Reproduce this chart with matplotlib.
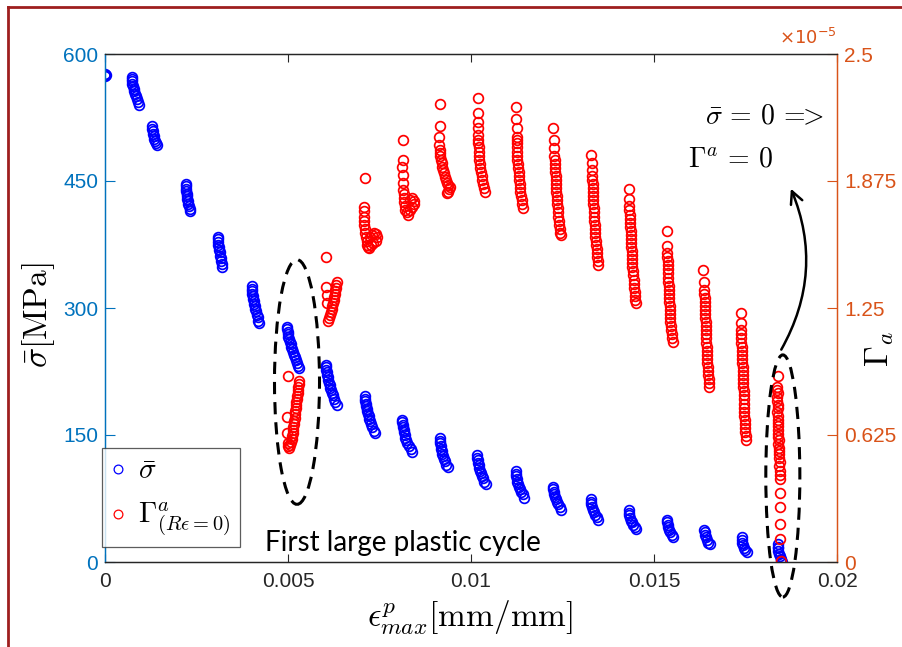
import numpy as np
import matplotlib
matplotlib.use('Agg')
import matplotlib.pyplot as plt
from matplotlib.patches import Ellipse, FancyArrowPatch
from matplotlib.lines import Line2D

plt.rcParams['mathtext.fontset'] = 'cm'
plt.rcParams['font.family'] = ['Liberation Sans', 'DejaVu Sans']

# ── Data ──────────────────────────────────────────────────────────────────────
# sigma bar [MPa] vs max plastic strain, one cycle group per line
sigma_x = [
    0.0, 0.0, 0.00001, 0.00002,
    0.00073, 0.00073, 0.00074, 0.00075, 0.00076, 0.00078, 0.00080, 0.00082, 0.00084, 0.00087, 0.00089, 0.00092,
    0.00129, 0.00129, 0.00130, 0.00131, 0.00133, 0.00135, 0.00137, 0.00139, 0.00141,
    0.00220, 0.00220, 0.00221, 0.00222, 0.00223, 0.00224, 0.00225, 0.00226, 0.00228, 0.00229, 0.00231, 0.00232,
    0.00308, 0.00308, 0.00309, 0.00310, 0.00311, 0.00312, 0.00313, 0.00315, 0.00316, 0.00318, 0.00319, 0.00321,
    0.00402, 0.00402, 0.00403, 0.00403, 0.00404, 0.00405, 0.00406, 0.00408, 0.00409, 0.00411, 0.00413, 0.00415, 0.00417, 0.00419, 0.00421,
    0.00498, 0.00498, 0.00499, 0.00500, 0.00501, 0.00503, 0.00505, 0.00507, 0.00509, 0.00511, 0.00513, 0.00516, 0.00518, 0.00521, 0.00524, 0.00527, 0.00531,
    0.00604, 0.00604, 0.00605, 0.00606, 0.00607, 0.00609, 0.00610, 0.00612, 0.00614, 0.00616, 0.00618, 0.00621, 0.00623, 0.00626, 0.00629, 0.00633,
    0.00710, 0.00710, 0.00711, 0.00712, 0.00713, 0.00715, 0.00716, 0.00718, 0.00720, 0.00722, 0.00724, 0.00727, 0.00730, 0.00734, 0.00738,
    0.00812, 0.00812, 0.00813, 0.00814, 0.00816, 0.00817, 0.00819, 0.00821, 0.00823, 0.00826, 0.00830, 0.00835, 0.00840,
    0.00915, 0.00915, 0.00916, 0.00917, 0.00918, 0.00920, 0.00922, 0.00924, 0.00926, 0.00929, 0.00933, 0.00938,
    0.01017, 0.01017, 0.01018, 0.01019, 0.01021, 0.01022, 0.01024, 0.01026, 0.01029, 0.01032, 0.01036, 0.01041,
    0.01123, 0.01123, 0.01124, 0.01125, 0.01127, 0.01129, 0.01131, 0.01134, 0.01137, 0.01141, 0.01145,
    0.01225, 0.01225, 0.01226, 0.01228, 0.01230, 0.01232, 0.01235, 0.01238, 0.01242, 0.01246,
    0.01328, 0.01328, 0.01329, 0.01331, 0.01333, 0.01336, 0.01339, 0.01343, 0.01348,
    0.01432, 0.01432, 0.01433, 0.01435, 0.01437, 0.01440, 0.01443, 0.01447, 0.01451,
    0.01535, 0.01536, 0.01537, 0.01539, 0.01542, 0.01545, 0.01549, 0.01553,
    0.01637, 0.01638, 0.01639, 0.01641, 0.01644, 0.01648, 0.01653,
    0.01740, 0.01740, 0.01741, 0.01743, 0.01746, 0.01749, 0.01753,
    0.01838, 0.01838, 0.01839, 0.01840, 0.01842, 0.01844, 0.01846, 0.01848, 0.01851,
]
sigma_y = [
    575, 574, 576, 575,
    573, 571, 568, 565, 562, 559, 556, 553, 550, 547, 543, 540,
    515, 512, 509, 506, 503, 500, 497, 495, 492,
    447, 444, 441, 438, 435, 432, 429, 426, 423, 420, 417, 414,
    384, 381, 378, 375, 372, 369, 366, 362, 359, 356, 352, 349,
    326, 323, 320, 317, 314, 311, 308, 305, 302, 299, 296, 292, 289, 285, 282,
    278, 275, 272, 269, 266, 263, 260, 257, 254, 251, 248, 245, 242, 238, 235, 232, 229,
    233, 230, 227, 224, 221, 218, 215, 212, 209, 206, 203, 200, 197, 193, 189, 185,
    196, 193, 190, 187, 184, 181, 178, 175, 172, 169, 166, 163, 159, 155, 152,
    168, 165, 162, 159, 156, 153, 150, 147, 144, 141, 137, 134, 130,
    146, 143, 140, 137, 134, 131, 128, 125, 122, 119, 115, 112,
    126, 123, 120, 117, 114, 111, 108, 105, 102, 99, 95, 92,
    107, 104, 101, 98, 95, 92, 89, 86, 83, 80, 76,
    89, 86, 83, 80, 77, 74, 71, 68, 65, 62,
    74, 71, 68, 65, 62, 59, 56, 53, 50,
    61, 58, 55, 52, 49, 47, 44, 41, 39,
    50, 47, 44, 41, 38, 35, 32, 29,
    38, 35, 32, 29, 26, 23, 21,
    29, 26, 23, 20, 17, 14, 12,
    21, 18, 16, 13, 10, 7, 4, 2, 0,
]

# Gamma^a (R eps = 0), in units of 1e-5
gamma_x = [
    0.00499, 0.00496, 0.00496, 0.00500, 0.00499,
    0.00530, 0.00529, 0.00528, 0.00527, 0.00526, 0.00525, 0.00524, 0.00523, 0.00522, 0.00521, 0.00520, 0.00519,
    0.00518, 0.00517, 0.00516, 0.00515, 0.00514, 0.00513, 0.00512, 0.00510, 0.00508, 0.00505, 0.00503,
    0.00604, 0.00604, 0.00606, 0.00607,
    0.00633, 0.00632, 0.00631, 0.00629, 0.00628, 0.00626, 0.00625, 0.00623, 0.00621, 0.00619, 0.00617, 0.00615, 0.00612, 0.00610,
    0.00710,
    0.00708, 0.00708, 0.00708, 0.00709, 0.00709, 0.00710, 0.00711, 0.00713, 0.00715, 0.00717, 0.00719,
    0.00725, 0.00730, 0.00735, 0.00740, 0.00743, 0.00740, 0.00733, 0.00727, 0.00722,
    0.00813,
    0.00813, 0.00812, 0.00813, 0.00815, 0.00815, 0.00816, 0.00817, 0.00818, 0.00819, 0.00821,
    0.00826, 0.00832, 0.00838, 0.00843, 0.00845, 0.00840, 0.00834, 0.00828,
    0.00915, 0.00915, 0.00913, 0.00913, 0.00915, 0.00915, 0.00915, 0.00917, 0.00920, 0.00922,
    0.00924, 0.00926, 0.00929, 0.00931, 0.00934, 0.00938, 0.00943, 0.00940, 0.00936, 0.00934,
    0.01018, 0.01018, 0.01020, 0.01018, 0.01020,
    0.01020, 0.01020, 0.01021, 0.01021, 0.01022, 0.01023, 0.01024, 0.01025, 0.01027, 0.01029, 0.01031, 0.01033, 0.01036, 0.01038,
    0.01122, 0.01122, 0.01125, 0.01125,
    0.01125, 0.01125, 0.01126, 0.01126, 0.01127, 0.01127, 0.01128, 0.01129, 0.01130, 0.01131, 0.01132, 0.01133,
    0.01134, 0.01135, 0.01136, 0.01138, 0.01139, 0.01141,
    0.01225, 0.01228,
    0.01228, 0.01228, 0.01229, 0.01229, 0.01230, 0.01230, 0.01231, 0.01231, 0.01232, 0.01233, 0.01233,
    0.01234, 0.01235, 0.01236, 0.01237, 0.01238, 0.01239, 0.01240, 0.01241, 0.01242, 0.01244, 0.01245,
    0.01328, 0.01330, 0.01330,
    0.01331, 0.01331, 0.01332, 0.01332, 0.01333, 0.01333, 0.01334, 0.01334, 0.01335, 0.01336, 0.01336, 0.01337,
    0.01338, 0.01338, 0.01339, 0.01340, 0.01341, 0.01342, 0.01343, 0.01344, 0.01345, 0.01346, 0.01348,
    0.01432, 0.01432,
    0.01433, 0.01433, 0.01434, 0.01434, 0.01435, 0.01435, 0.01436, 0.01436, 0.01437, 0.01437, 0.01438, 0.01439,
    0.01439, 0.01440, 0.01441, 0.01441, 0.01442, 0.01443, 0.01444, 0.01445, 0.01446, 0.01447, 0.01448, 0.01449, 0.01451,
    0.01535, 0.01535,
    0.01536, 0.01536, 0.01537, 0.01537, 0.01538, 0.01538, 0.01539, 0.01539, 0.01540, 0.01540, 0.01541, 0.01541,
    0.01542, 0.01543, 0.01543, 0.01544, 0.01545, 0.01545, 0.01546, 0.01547, 0.01548, 0.01549, 0.01551,
    0.01635, 0.01637,
    0.01637, 0.01637, 0.01638, 0.01638, 0.01639, 0.01639, 0.01640, 0.01640, 0.01641, 0.01641, 0.01642, 0.01642,
    0.01643, 0.01643, 0.01644, 0.01644, 0.01645, 0.01645, 0.01646, 0.01647, 0.01647, 0.01648, 0.01649, 0.01650, 0.01651,
    0.01738, 0.01738,
    0.01738, 0.01738, 0.01739, 0.01739, 0.01740, 0.01740, 0.01741, 0.01741, 0.01741, 0.01742, 0.01742, 0.01743, 0.01743, 0.01744,
    0.01744, 0.01745, 0.01745, 0.01745, 0.01746, 0.01746, 0.01747, 0.01747, 0.01748, 0.01748, 0.01749, 0.01749, 0.01750, 0.01751,
    0.01838, 0.01836, 0.01837, 0.01838, 0.01836, 0.01837, 0.01838, 0.01839, 0.01837, 0.01838, 0.01839, 0.01838, 0.01839, 0.01840, 0.01839, 0.01840,
    0.01841, 0.01840, 0.01841, 0.01842, 0.01841, 0.01842, 0.01843, 0.01842, 0.01843, 0.01843, 0.01844, 0.01845, 0.01845, 0.01845, 0.01845, 0.01847,
]
gamma_y = [
    0.915, 0.716, 0.637, 0.585, 0.570,
    0.891, 0.876, 0.861, 0.846, 0.831, 0.816, 0.801, 0.786, 0.771, 0.756, 0.741, 0.726,
    0.711, 0.696, 0.681, 0.666, 0.651, 0.636, 0.621, 0.606, 0.591, 0.576, 0.561,
    1.501, 1.353, 1.314, 1.275,
    1.379, 1.364, 1.349, 1.334, 1.319, 1.304, 1.289, 1.274, 1.259, 1.244, 1.229, 1.214, 1.200, 1.186,
    1.891,
    1.749, 1.725, 1.700, 1.680, 1.660, 1.640, 1.620, 1.600, 1.580, 1.560, 1.552,
    1.600, 1.610, 1.620, 1.615, 1.600, 1.580, 1.570, 1.560, 1.545,
    2.075,
    1.978, 1.942, 1.904, 1.864, 1.831, 1.810, 1.790, 1.770, 1.750, 1.732,
    1.720, 1.730, 1.745, 1.760, 1.775, 1.790, 1.780, 1.710,
    2.252, 2.147, 2.090, 2.052, 2.027, 2.012, 1.998, 1.980, 1.962, 1.945,
    1.929, 1.912, 1.896, 1.880, 1.864, 1.855, 1.847, 1.835, 1.822, 1.814,
    2.282, 2.208, 2.167, 2.134, 2.101,
    2.077, 2.060, 2.040, 2.020, 2.000, 1.980, 1.960, 1.940, 1.920, 1.900, 1.880, 1.860, 1.840, 1.822,
    2.238, 2.179, 2.134, 2.093,
    2.077, 2.060, 2.040, 2.020, 2.000, 1.980, 1.960, 1.940, 1.920, 1.900, 1.880, 1.860,
    1.840, 1.820, 1.800, 1.780, 1.760, 1.741,
    2.134, 2.077,
    2.037, 2.000, 1.980, 1.960, 1.940, 1.920, 1.900, 1.880, 1.860, 1.840, 1.820,
    1.800, 1.780, 1.760, 1.740, 1.720, 1.700, 1.680, 1.660, 1.640, 1.620, 1.609,
    2.003, 1.962, 1.929,
    1.900, 1.880, 1.860, 1.840, 1.820, 1.800, 1.780, 1.760, 1.740, 1.720, 1.700, 1.680,
    1.660, 1.640, 1.620, 1.600, 1.580, 1.560, 1.540, 1.520, 1.500, 1.480, 1.462,
    1.834, 1.785,
    1.750, 1.730, 1.710, 1.690, 1.670, 1.650, 1.630, 1.610, 1.590, 1.570, 1.550, 1.530,
    1.510, 1.490, 1.470, 1.450, 1.430, 1.410, 1.390, 1.370, 1.350, 1.330, 1.310, 1.290, 1.273,
    1.630, 1.555,
    1.520, 1.500, 1.480, 1.460, 1.440, 1.420, 1.400, 1.380, 1.360, 1.340, 1.320, 1.300,
    1.280, 1.260, 1.240, 1.220, 1.200, 1.180, 1.160, 1.140, 1.120, 1.100, 1.084,
    1.437, 1.379,
    1.340, 1.320, 1.300, 1.280, 1.260, 1.240, 1.220, 1.200, 1.180, 1.160, 1.140, 1.120,
    1.100, 1.080, 1.060, 1.040, 1.020, 1.000, 0.980, 0.960, 0.940, 0.920, 0.900, 0.880, 0.863,
    1.227, 1.178,
    1.140, 1.120, 1.100, 1.080, 1.060, 1.040, 1.020, 1.000, 0.980, 0.960, 0.940, 0.920, 0.900, 0.880,
    0.860, 0.840, 0.820, 0.800, 0.780, 0.760, 0.740, 0.720, 0.700, 0.680, 0.660, 0.640, 0.620, 0.600,
    0.917, 0.863, 0.845, 0.830, 0.810, 0.790, 0.775, 0.760, 0.740, 0.720, 0.700, 0.685, 0.670, 0.650, 0.630, 0.615,
    0.600, 0.580, 0.560, 0.545, 0.530, 0.510, 0.490, 0.470, 0.450, 0.430, 0.410, 0.338, 0.272, 0.187, 0.113, 0.005,
]

x_ticks = [0, 0.005, 0.01, 0.015, 0.02]
x_ticklabels = ['0', '0.005', '0.01', '0.015', '0.02']
sig_ticks = [0, 150, 300, 450, 600]
gam_ticks = [0, 0.625, 1.25, 1.875, 2.5]
gam_ticklabels = ['0', '0.625', '1.25', '1.875', '2.5']

assert len(sigma_x) == len(sigma_y)
assert len(gamma_x) == len(gamma_y)

# ── Colours ───────────────────────────────────────────────────────────────────
C_LEFT  = '#0072BD'
C_RIGHT = '#D95319'
C_AX    = '#262626'

# ── Figure ────────────────────────────────────────────────────────────────────
fig = plt.figure(figsize=(9.02, 6.47), dpi=100)
ax = fig.add_axes([105/902, 85/647, 732/902, 508/647])
ax2 = ax.twinx()

mk = dict(linestyle='none', marker='o', markersize=7.0, markerfacecolor='none', markeredgewidth=1.25)
h1, = ax.plot(sigma_x, sigma_y, markeredgecolor='blue', label=r'$\bar{\sigma}$', **mk)
h2, = ax2.plot(gamma_x, gamma_y, markeredgecolor='red', label=r'$\Gamma^a_{(R\epsilon=0)}$', **mk)

ax.set_xlim(0, 0.02)
ax.set_ylim(0, 600)
ax2.set_ylim(0, 2.5)

ax.set_xticks(x_ticks)
ax.set_xticklabels(x_ticklabels)
ax.set_yticks(sig_ticks)
ax.set_yticklabels([str(t) for t in sig_ticks])
ax2.set_yticks(gam_ticks)
ax2.set_yticklabels(gam_ticklabels)

ax.tick_params(axis='x', direction='in', top=True, length=6, width=0.8,
               colors=C_AX, labelsize=15, pad=7)
ax.tick_params(axis='y', direction='in', length=7, width=0.8,
               colors=C_LEFT, labelsize=15, pad=5)
ax2.tick_params(axis='y', direction='in', length=7, width=0.8,
                colors=C_RIGHT, labelsize=15, pad=5)

for a in (ax, ax2):
    a.spines['bottom'].set_color(C_AX)
    a.spines['top'].set_color(C_AX)
    a.spines['left'].set_color(C_LEFT)
    a.spines['right'].set_color(C_RIGHT)
    for s in a.spines.values():
        s.set_linewidth(0.9)

ax.set_xlabel(r'$\epsilon^p_{max}[\mathrm{mm/mm}]$', fontsize=24, color='black')
ax.xaxis.set_label_coords(0.499, -0.072)
ax.set_ylabel(r'$\bar{\sigma}[\mathrm{MPa}]$', fontsize=24, color='black')
ax.yaxis.set_label_coords(-0.066, 0.486)
ax2.set_ylabel(r'$\Gamma_a$', fontsize=24, color='black', rotation=90)
ax2.yaxis.set_label_coords(1.036, 0.42)

ax2.text(1.0, 1.012, r'$\times10^{-5}$', transform=ax2.transAxes, ha='right', va='bottom',
         fontsize=13, color=C_RIGHT, math_fontfamily='dejavusans')

# legend
leg = fig.legend(handles=[h1, h2], loc='lower left', bbox_to_anchor=(102/902, 100/647),
                 bbox_transform=fig.transFigure, fontsize=21, frameon=True, fancybox=False,
                 handlelength=0.5, handletextpad=0.45, borderpad=0.3, labelspacing=0.55,
                 borderaxespad=0, markerscale=0.9)
leg.get_frame().set_edgecolor('#333333')
leg.get_frame().set_linewidth(0.9)
for lh in leg.legend_handles:
    lh.set_markeredgewidth(0.9)

# ── Annotations ───────────────────────────────────────────────────────────────
ax2.text(0.00437, 22, 'First large plastic cycle', transform=ax.transData,
         family='Lato', fontsize=20, va='center', ha='left', color='black')

ax2.text(0.01962, 525, r'$\bar{\sigma}\,=\,0\,=\!\!\!>$', transform=ax.transData,
         fontsize=20, ha='right', va='center')
ax2.text(0.01825, 475, r'$\Gamma^a\,=\,0$', transform=ax.transData,
         fontsize=20, ha='right', va='center')

ell_style = dict(fill=False, edgecolor='black', linewidth=2.2, linestyle=(0, (4, 2.6)),
                 clip_on=False, zorder=5, transform=ax.transData)
ax2.add_patch(Ellipse((0.005246, 212.6), 0.00123, 289, **ell_style))
ax2.add_patch(Ellipse((0.01852, 101.6), 0.00093, 286, **ell_style))

arrow = FancyArrowPatch((0.01844, 248), (0.01871, 444), transform=ax.transData,
                        connectionstyle='arc3,rad=0.25', arrowstyle='->',
                        mutation_scale=22, linewidth=1.8, color='black', clip_on=False, zorder=6)
ax2.add_patch(arrow)

# frame border (dark red) on left and top
fig.add_artist(Line2D([8/902, 8/902], [0, 640/647], transform=fig.transFigure,
                      color='#9E1E1E', linewidth=2))
fig.add_artist(Line2D([8/902, 1], [640/647, 640/647], transform=fig.transFigure,
                      color='#9E1E1E', linewidth=2))

fig.savefig('out.png', dpi=100)
